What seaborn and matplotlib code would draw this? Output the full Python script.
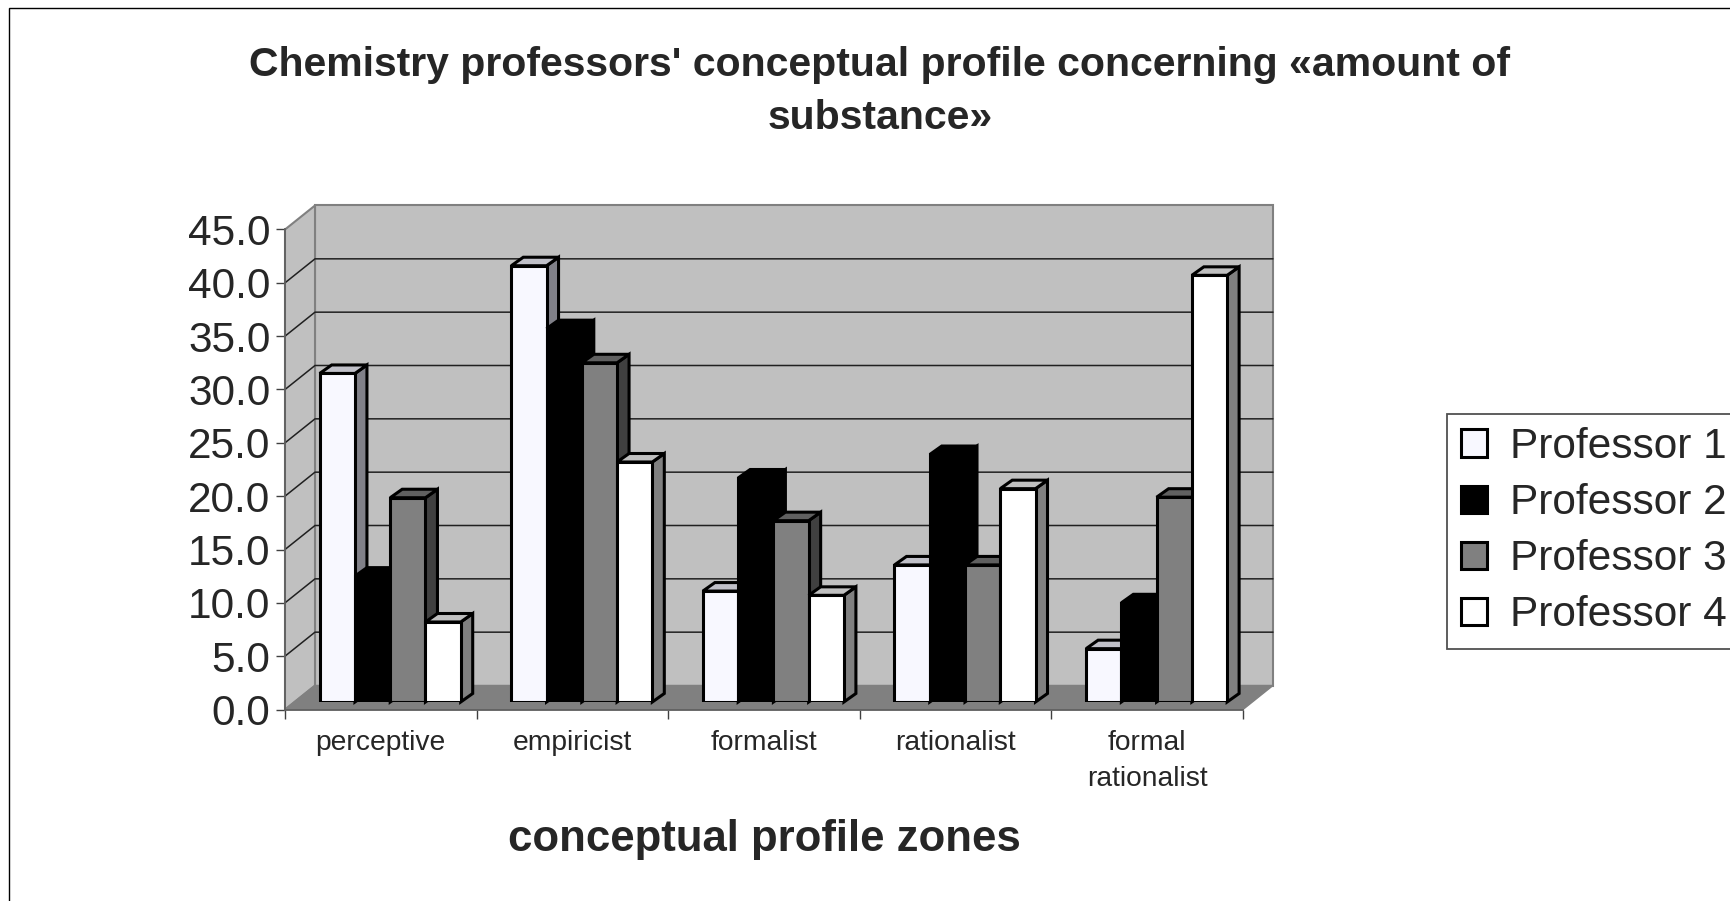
import matplotlib
matplotlib.use('Agg')
import matplotlib.pyplot as plt
from matplotlib.patches import Polygon, Rectangle
import pandas as pd
import seaborn as sns

zones = ['perceptive', 'empiricist', 'formalist', 'rationalist', 'formal\nrationalist']
professors = ['Professor 1', 'Professor 2', 'Professor 3', 'Professor 4']
prof1 = [30.8, 40.9, 10.4, 12.85, 5.0]
prof2 = [11.8, 35.0, 21.0, 23.2, 9.3]
prof3 = [19.15, 31.8, 17.0, 12.85, 19.2]
prof4 = [7.5, 22.5, 10.0, 20.0, 40.0]
y_ticks = [0, 5, 10, 15, 20, 25, 30, 35, 40, 45]

front_cols = ['#f8f8ff', '#000000', '#808080', '#ffffff']
side_cols = ['#808088', '#000000', '#404040', '#808080']
top_cols = ['#c0c0c8', '#000000', '#606060', '#c0c0c0']

W, H = 1731, 901
sns.set_style('white')
plt.rcParams['font.family'] = ['Liberation Sans', 'DejaVu Sans']

rows = []
for name, vals in zip(professors, [prof1, prof2, prof3, prof4]):
    for z, v in zip(zones, vals):
        rows.append({'zone': z, 'professor': name, 'score': v})
df = pd.DataFrame(rows)

fig = plt.figure(figsize=(W / 100, H / 100), dpi=100)
fig.add_artist(Rectangle((9 / W, -0.01), 1.01, (H - 8) / H + 0.01, transform=fig.transFigure,
                         fill=False, ec='black', lw=1))

# axis box sits on the front edge of the floor, the bars axes a bit further in
ax_w, ax_h = 958, 480
back = fig.add_axes([285 / W, (H - 709.5) / H, ax_w / W, ax_h / H])
ax = fig.add_axes([294.4 / W, (H - 702) / H, ax_w / W, ax_h / H])

px_x = 5 / ax_w   # data units per pixel
px_y = 45 / ax_h

# walls, floor, gridlines
back.set_xlim(-0.5, 4.5)
back.set_ylim(0, 45)
back.patch.set_visible(False)
dx, dy = 30 * px_x, 24 * px_y
wall = dict(fc='#c0c0c0', ec='#808080', lw=1.5, clip_on=False, zorder=1)
back.add_patch(Polygon([(-0.5 + dx, dy), (4.5 + dx, dy), (4.5 + dx, 45 + dy), (-0.5 + dx, 45 + dy)], **wall))
back.add_patch(Polygon([(-0.5, 0), (-0.5 + dx, dy), (-0.5 + dx, 45 + dy), (-0.5, 45)], **wall))
back.add_patch(Polygon([(-0.5, 0), (4.5, 0), (4.5 + dx, dy), (-0.5 + dx, dy)], fc='#808080', ec='#808080',
                       lw=1, clip_on=False, zorder=2))
for t in y_ticks[1:-1]:
    back.plot([-0.5, -0.5 + dx, 4.5 + dx], [t, t + dy, t + dy], color='#202020', lw=1.1, clip_on=False, zorder=3)

for s in ['top', 'right']:
    back.spines[s].set_visible(False)
for s in ['left', 'bottom']:
    back.spines[s].set_color('#606060')
    back.spines[s].set_linewidth(1.3)
    back.spines[s].set_zorder(4)
back.set_yticks(y_ticks)
back.set_yticklabels(['%.1f' % t for t in y_ticks], fontsize=30.5)
back.set_xticks([-0.5, 0.5, 1.5, 2.5, 3.5, 4.5])
back.set_xticklabels([])
back.set_xticks(range(5), labels=zones, minor=True, fontsize=20.3, linespacing=1.5)
back.tick_params(axis='both', which='major', left=True, bottom=True, length=6.5, width=1, color='#404040', pad=4)
back.tick_params(axis='x', which='minor', bottom=False, pad=13)
back.set_xlabel('conceptual profile zones', fontsize=31.5, fontweight='bold')
back.xaxis.set_label_coords(0.5, -(839 - 709.5) / ax_h)
back.xaxis.label.set_verticalalignment('center')

# bars
sns.barplot(data=df, x='zone', y='score', hue='professor', hue_order=professors, order=zones,
            palette=front_cols, saturation=1, width=0.736, gap=0, edgecolor='black', linewidth=2.2,
            ax=ax, legend=True)
ax.set_xlim(-0.5, 4.5)
ax.set_ylim(0, 45)
ax.patch.set_visible(False)

bx, by = 12 * px_x, 8.5 * px_y
for h, cont in enumerate(ax.containers):
    for i, bar in enumerate(cont):
        z = 10 + i * 10 + h * 2
        x0 = bar.get_x()
        x1 = x0 + bar.get_width()
        top = bar.get_height()
        bar.set_zorder(z + 1)
        ax.add_patch(Polygon([(x1, 0), (x1 + bx, by), (x1 + bx, top + by), (x1, top)], fc=side_cols[h],
                             ec='black', lw=2.2, joinstyle='miter', clip_on=False, zorder=z))
        ax.add_patch(Polygon([(x0, top), (x0 + bx, top + by), (x1 + bx, top + by), (x1, top)], fc=top_cols[h],
                             ec='black', lw=2.2, joinstyle='miter', clip_on=False, zorder=z))

handles, labels = ax.get_legend_handles_labels()
ax.get_legend().remove()
leg = ax.legend(handles, labels, loc='upper left', bbox_to_anchor=(1447 / W, (H - 413.5) / H),
                bbox_transform=fig.transFigure, borderaxespad=0, fontsize=30.5, handlelength=0.62,
                handleheight=0.62, handletextpad=0.55, labelspacing=0.38, borderpad=0.32, frameon=True,
                fancybox=False, edgecolor='#505050', framealpha=1)
leg.get_frame().set_linewidth(1.3)
leg.set_zorder(200)
for s in ax.spines.values():
    s.set_visible(False)
ax.set_xticks([])
ax.set_yticks([])
ax.set_xlabel('')
ax.set_ylabel('')

fig.text(880 / W, 1 - 65 / H, "Chemistry professors' conceptual profile concerning «amount of",
         ha='center', va='center', fontsize=29.5, fontweight='bold')
fig.text(880 / W, 1 - 118 / H, 'substance»', ha='center', va='center', fontsize=29.5, fontweight='bold')

fig.savefig('out.png', dpi=100)
